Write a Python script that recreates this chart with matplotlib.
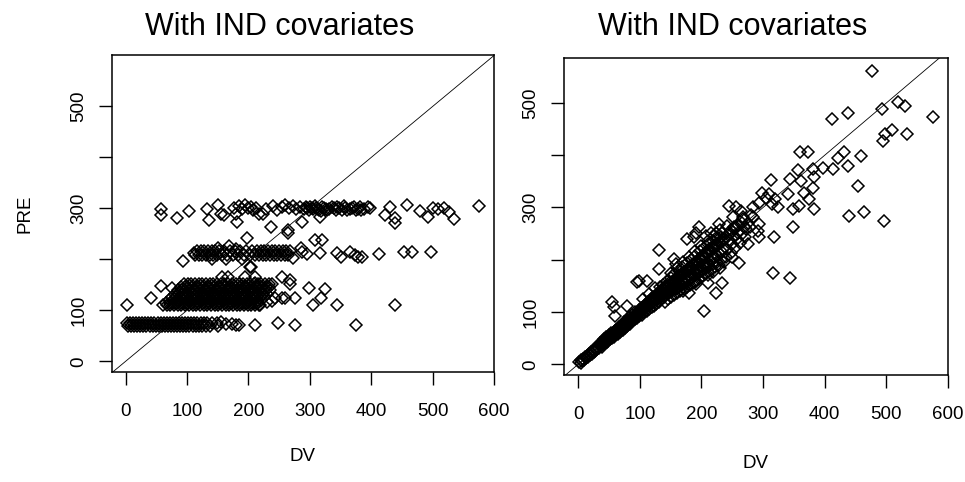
import matplotlib
matplotlib.use("Agg")
import matplotlib.pyplot as plt

plt.rcParams['font.family'] = ['Liberation Sans', 'DejaVu Sans']

# ---------------- text ----------------
title_text = "With IND covariates"
x_label = "DV"
y_label = "PRE"
x_tick_values = [0, 100, 200, 300, 400, 500, 600]
x_tick_labels = ["0", "100", "200", "300", "400", "500", "600"]
y_tick_values = [0, 100, 200, 300, 400, 500]
y_tick_labels = ["0", "100", "", "300", "", "500"]

# ---------------- left panel data (PRE levels with DV values) ----------------
left_band_levels = [75, 70,
                    151, 145, 139, 133, 127, 121, 115, 110,
                    217, 209]
left_band_dv = [
    [2, 7, 12, 17, 22, 27, 32, 37, 42, 47, 52, 57, 62, 67, 72, 77, 82, 87, 92, 97, 102, 107, 112, 117, 122, 127, 133, 140, 149],
    [4, 9, 14, 19, 24, 29, 34, 39, 44, 49, 54, 59, 64, 69, 74, 79, 84, 89, 94, 99, 104, 109, 114, 119, 124, 131, 138, 151],
    [95, 101, 107, 113, 119, 125, 131, 137, 143, 149, 155, 161, 167, 173, 179, 185, 191, 197, 203, 209, 215, 221, 227, 233, 239],
    [90, 96, 102, 108, 114, 120, 126, 132, 138, 144, 150, 156, 162, 168, 174, 180, 186, 192, 198, 204, 210, 216, 222, 228, 234],
    [85, 91, 97, 103, 109, 115, 121, 127, 133, 139, 145, 151, 157, 163, 169, 175, 181, 187, 193, 199, 205, 211, 217, 223, 229, 235],
    [80, 86, 92, 98, 104, 110, 116, 122, 128, 134, 140, 146, 152, 158, 164, 170, 176, 182, 188, 194, 200, 206, 212, 218, 224, 230],
    [76, 82, 88, 94, 100, 106, 112, 118, 124, 130, 136, 142, 148, 154, 160, 166, 172, 178, 184, 190, 196, 202, 208, 214, 220, 226],
    [71, 77, 83, 89, 95, 101, 107, 113, 119, 125, 131, 137, 143, 149, 155, 161, 167, 173, 179, 185, 191, 197, 203, 209, 215, 221],
    [66, 72, 78, 84, 90, 96, 102, 108, 114, 120, 126, 132, 138, 144, 150, 156, 162, 168, 174, 180, 186, 192, 198, 204, 210, 216],
    [61, 67, 73, 79, 85, 91, 97, 103, 109, 115, 121, 127, 133, 139, 145, 151, 157, 163, 169, 175, 181, 187, 193, 199, 205, 211, 217],
    [116, 122, 128, 134, 140, 146, 152, 160, 170, 178, 186, 196, 206, 214, 220, 226, 232, 238, 244, 250, 256, 262, 268],
    [113, 119, 125, 131, 137, 143, 149, 157, 165, 175, 183, 193, 203, 211, 217, 223, 229, 235, 241, 247, 253, 259, 265],
]

left_low_scatter = [(156, 77), (163, 73), (173, 74), (179, 71), (184, 71), (211, 72),
                    (249, 75), (276, 72), (375, 72)]

left_mid_scatter = [(2, 110), (41, 124), (57, 147), (76, 143), (157, 166), (166, 166),
                    (195, 165), (211, 166), (211, 153), (219, 111), (244, 124), (255, 124),
                    (260, 124), (276, 124), (254, 166), (268, 160), (268, 151), (299, 144),
                    (325, 142), (319, 125), (306, 111), (345, 111), (439, 111), (230, 116),
                    (238, 118)]

left_200_scatter = [(94, 197), (111, 212), (168, 226), (179, 221), (203, 185), (198, 242),
                    (205, 186), (272, 202), (288, 215), (309, 238), (320, 238), (317, 213),
                    (344, 213), (350, 205), (366, 215), (373, 208), (379, 205), (385, 204),
                    (413, 210), (454, 215), (467, 215), (498, 214), (163, 200), (190, 200),
                    (150, 222), (285, 222), (296, 210), (140, 200)]

left_300_scatter = [(58, 298), (58, 287), (84, 282), (104, 295), (133, 298), (135, 278),
                    (151, 306), (155, 290), (160, 288), (179, 290), (181, 274), (176, 300),
                    (184, 304), (190, 298), (195, 306), (200, 300), (204, 303), (208, 297),
                    (213, 301), (218, 290), (224, 290), (236, 263), (228, 298), (240, 305),
                    (247, 296), (254, 302), (260, 306), (266, 300), (272, 305), (278, 298),
                    (284, 303), (265, 258), (265, 251), (288, 273), (295, 300), (300, 303),
                    (305, 298), (310, 301), (315, 296), (320, 303), (326, 299), (316, 284),
                    (331, 298), (339, 300), (345, 302), (352, 297), (358, 301), (365, 298),
                    (372, 302), (378, 299), (384, 297), (398, 300), (423, 287), (431, 303),
                    (439, 281), (439, 271), (459, 306), (479, 294), (493, 284), (500, 300),
                    (508, 298), (518, 300), (527, 292), (535, 280), (576, 304), (290, 298),
                    (293, 303), (298, 296), (303, 300), (308, 305), (313, 299), (318, 294),
                    (323, 301), (328, 297), (336, 303), (342, 296), (348, 300), (355, 304),
                    (361, 296), (368, 300), (375, 296), (381, 302), (388, 298), (394, 302)]

# ---------------- right panel data (DV, PRE) ----------------
right_core = [(2, 5), (4, 3), (5, 8), (7, 6), (8, 10), (10, 9), (11, 13), (13, 12), (14, 16),
              (16, 14), (18, 20), (19, 17), (21, 23), (22, 20), (24, 27), (25, 24), (27, 29),
              (28, 26), (30, 33), (31, 30), (33, 36), (34, 32), (36, 40), (37, 35), (39, 42),
              (40, 38), (42, 48), (42, 40), (44, 44), (45, 52), (46, 42), (48, 50), (49, 45),
              (50, 56), (51, 48), (53, 52), (54, 60), (55, 50), (57, 58), (58, 53), (59, 64),
              (60, 57), (62, 60), (63, 68), (64, 58), (66, 64), (67, 72), (68, 62), (70, 68),
              (71, 76), (72, 65), (74, 72), (75, 80), (76, 70), (78, 75), (79, 84), (80, 73),
              (82, 80), (83, 90), (84, 78), (85, 86), (87, 82), (88, 95), (89, 84), (90, 90),
              (92, 86), (93, 100), (94, 92), (95, 88), (97, 96), (98, 104), (99, 92), (100, 98),
              (102, 108), (103, 95), (104, 102), (106, 112), (107, 100), (108, 106), (110, 116),
              (111, 102), (112, 110), (114, 120), (115, 106), (116, 114), (118, 124), (119, 110),
              (120, 118), (122, 128), (123, 112), (124, 120), (126, 132), (127, 116), (128, 124),
              (130, 136), (131, 120), (132, 128), (134, 140), (135, 124), (136, 132), (138, 146),
              (139, 128), (140, 136), (141, 120), (142, 150), (143, 132), (145, 140), (146, 124),
              (147, 155), (148, 136), (150, 144), (151, 128), (152, 158), (153, 140), (155, 148),
              (156, 132), (157, 162), (158, 144), (160, 152), (161, 136), (162, 168), (163, 148),
              (165, 156), (166, 140), (167, 172), (168, 152), (170, 160), (171, 144), (172, 176),
              (173, 156), (175, 164), (176, 148), (177, 180), (178, 160), (180, 168), (181, 152),
              (182, 186), (183, 164), (185, 172), (186, 156), (187, 192), (188, 168), (190, 178),
              (191, 160), (192, 198), (193, 172), (195, 182), (196, 164), (197, 204), (198, 176),
              (200, 186), (201, 168), (202, 210), (203, 180), (205, 190), (206, 172), (207, 214),
              (208, 184), (210, 194), (211, 176), (212, 220), (213, 188), (215, 198), (216, 180),
              (218, 226), (219, 192), (220, 204), (222, 186), (224, 230), (225, 196), (226, 208),
              (228, 190), (230, 234), (232, 200), (234, 214), (236, 196), (238, 240), (240, 206),
              (242, 220), (245, 250), (248, 212), (250, 230), (252, 258), (255, 222), (258, 240),
              (260, 266), (262, 232), (265, 250), (268, 278), (270, 244), (272, 258), (275, 270),
              (278, 262), (280, 285)]

right_core_inner = [(41, 43), (44, 47), (47, 47), (50, 52), (53, 55), (56, 57), (59, 60), (62, 65),
                    (65, 66), (68, 70), (71, 71), (74, 77), (77, 78), (80, 82), (83, 84), (86, 89),
                    (89, 90), (92, 95), (95, 96), (98, 100), (101, 103), (104, 107), (107, 108),
                    (110, 112), (113, 115), (116, 119), (119, 120), (122, 124), (125, 127),
                    (128, 132), (131, 132), (134, 136), (137, 139), (140, 144), (143, 145),
                    (146, 148), (149, 151), (152, 156), (155, 157), (158, 160), (161, 163),
                    (164, 168), (167, 169), (170, 172), (173, 175), (176, 180), (179, 181),
                    (182, 184), (185, 187), (188, 192), (191, 193), (194, 196), (197, 199),
                    (200, 204), (203, 205), (206, 208), (209, 211), (212, 216), (215, 217),
                    (218, 220), (221, 223), (224, 228), (227, 229), (230, 232), (233, 235),
                    (236, 240), (240, 244), (244, 238), (248, 256), (252, 246), (256, 262),
                    (260, 252), (265, 270), (270, 262),
                    (133, 148), (137, 152), (144, 160), (150, 166), (156, 172), (163, 178),
                    (169, 186), (176, 194), (183, 200), (190, 208), (197, 216), (204, 222),
                    (211, 230), (218, 236), (226, 244), (234, 252),
                    (134, 128), (140, 130), (147, 138), (153, 146), (160, 146), (166, 154),
                    (173, 162), (179, 170), (186, 176), (193, 180), (200, 178), (207, 190),
                    (214, 200), (221, 206), (228, 212), (235, 220),
                    (105, 124), (115, 134), (125, 146), (150, 175), (160, 185), (170, 196),
                    (180, 206), (190, 216), (200, 226), (210, 236), (220, 246), (230, 256),
                    (170, 140), (190, 158), (210, 170), (230, 185), (250, 205)]

right_spread = [(131, 219), (95, 157), (99, 160), (55, 119), (58, 109), (60, 93), (39, 33),
                (80, 112), (112, 160), (131, 182), (158, 192), (156, 201), (177, 240),
                (188, 243), (191, 252), (196, 262), (207, 246), (215, 252), (229, 268),
                (223, 252), (232, 243), (223, 224), (242, 265), (253, 262), (256, 300),
                (264, 293), (267, 281), (251, 281), (244, 303), (283, 300), (283, 281),
                (294, 268), (291, 255), (275, 230), (294, 243), (318, 243), (261, 194),
                (204, 102), (223, 136), (233, 156), (211, 156), (219, 176), (180, 136),
                (191, 154), (299, 328), (310, 325), (305, 319), (320, 316), (315, 307),
                (324, 300), (340, 325), (343, 354), (313, 352), (294, 309)]

right_outliers = [(359, 303), (348, 297), (383, 297), (375, 316), (367, 328), (381, 338),
                  (383, 359), (362, 351), (356, 372), (381, 373), (360, 406), (373, 406),
                  (398, 375), (414, 373), (421, 395), (431, 407), (438, 379), (459, 399),
                  (454, 341), (439, 284), (463, 292), (496, 274), (348, 262), (316, 174),
                  (343, 165), (412, 469), (438, 480), (477, 562), (493, 489), (519, 501),
                  (531, 495), (576, 473), (497, 441), (509, 449), (495, 427), (534, 441)]

# ---------------- assemble ----------------
left_x, left_y = [], []
for level, dvs in zip(left_band_levels, left_band_dv):
    left_x.extend(dvs)
    left_y.extend([level] * len(dvs))
for grp in (left_low_scatter, left_mid_scatter, left_200_scatter, left_300_scatter):
    left_x.extend(p[0] for p in grp)
    left_y.extend(p[1] for p in grp)

right_x, right_y = [], []
for grp in (right_core, right_core_inner, right_spread, right_outliers):
    right_x.extend(p[0] for p in grp)
    right_y.extend(p[1] for p in grp)

# ---------------- figure ----------------
W, H = 965, 482
fig = plt.figure(figsize=(W / 100, H / 100), dpi=100)

def px_axes(x0, y0, x1, y1):
    return fig.add_axes([x0 / W, 1 - y1 / H, (x1 - x0) / W, (y1 - y0) / H])

axL = px_axes(111.5, 55, 494, 372)
axR = px_axes(564, 58, 948, 375)

panels = [
    (axL, left_x, left_y, (-23, 599), (-21, 601), True, 0.44, 1.063, -0.240),
    (axR, right_x, right_y, (-23, 600), (-20.5, 586), False, 0.44, 1.0726, -0.253),
]

for ax, xs, ys, xl, yl, show_ylabel, tx, ty, dvy in panels:
    ax.plot(xs, ys, linestyle='none', marker='D', ms=5.8, mfc='none',
            mec='black', mew=1.1, zorder=2)
    ax.axline((0, 0), slope=1, color='black', lw=0.6, zorder=3)
    ax.set_xlim(*xl)
    ax.set_ylim(*yl)
    ax.set_xticks(x_tick_values)
    ax.set_xticklabels(x_tick_labels)
    ax.set_yticks(y_tick_values)
    ax.set_yticklabels(y_tick_labels, rotation=90, va='center')
    ax.tick_params(axis='both', direction='out', length=9.5, width=1.0,
                   labelsize=13.5, colors='black')
    ax.tick_params(axis='x', pad=13)
    ax.tick_params(axis='y', pad=8)
    for sp in ax.spines.values():
        sp.set_linewidth(1.1)
        sp.set_color('black')
    ax.set_title(title_text, fontsize=22, x=tx, y=ty, pad=0, va='baseline')
    ax.set_xlabel(x_label, fontsize=13.5)
    ax.xaxis.set_label_coords(0.5, dvy)
    if show_ylabel:
        ax.set_ylabel(y_label, fontsize=13.5)
        ax.yaxis.set_label_coords(-0.205, 0.5)

fig.savefig("out.png", dpi=100)
